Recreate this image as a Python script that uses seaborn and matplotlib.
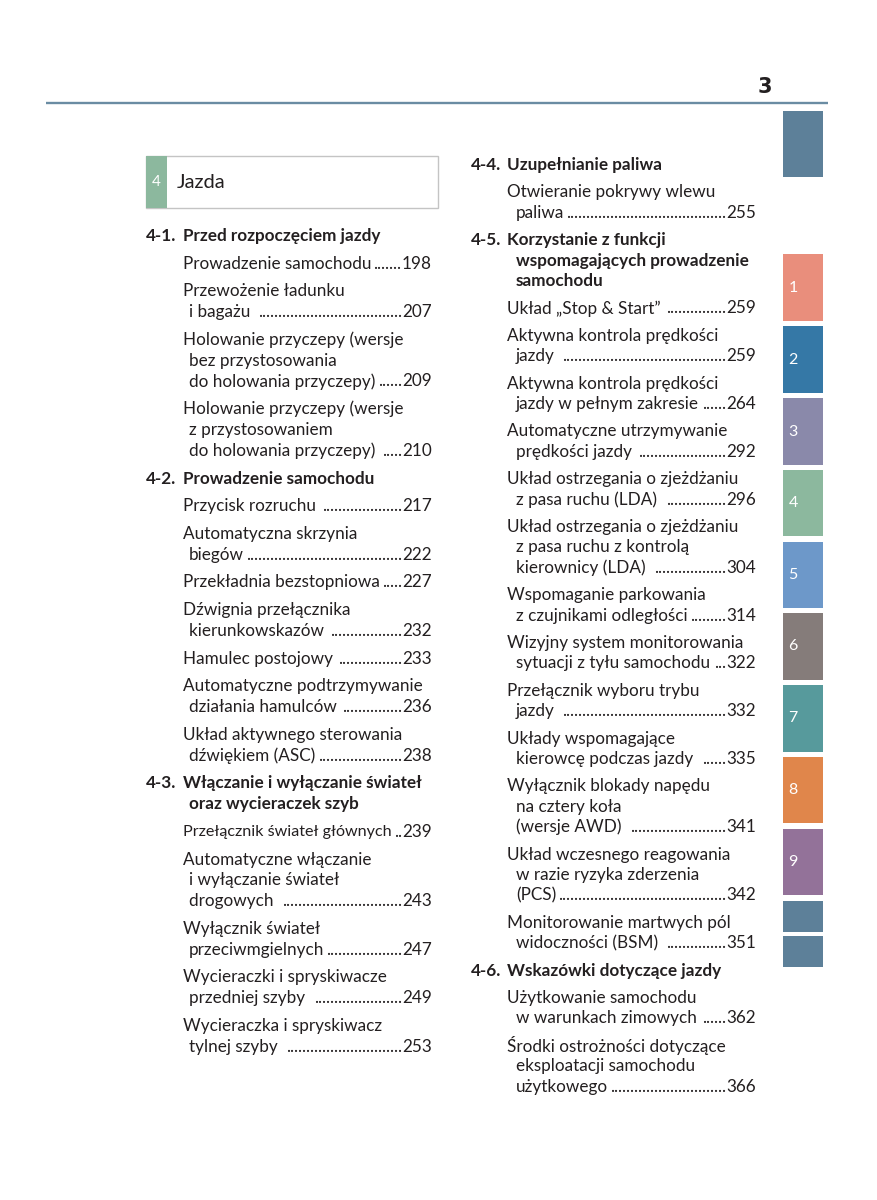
import matplotlib
matplotlib.use("Agg")
import matplotlib.pyplot as plt
import seaborn as sns

# --- dane: spis tresci rozdzialu 4 ---
# (numer podrozdzialu lub None, linie tekstu, strona)
left_items = [
    ("4-1.", ["Przed rozpoczęciem jazdy"], None),
    (None, ["Prowadzenie samochodu"], "198"),
    (None, ["Przewożenie ładunku", "i bagażu "], "207"),
    (None, ["Holowanie przyczepy (wersje", "bez przystosowania", "do holowania przyczepy)"], "209"),
    (None, ["Holowanie przyczepy (wersje", "z przystosowaniem", "do holowania przyczepy) "], "210"),
    ("4-2.", ["Prowadzenie samochodu"], None),
    (None, ["Przycisk rozruchu "], "217"),
    (None, ["Automatyczna skrzynia", "biegów"], "222"),
    (None, ["Przekładnia bezstopniowa"], "227"),
    (None, ["Dźwignia przełącznika", "kierunkowskazów "], "232"),
    (None, ["Hamulec postojowy "], "233"),
    (None, ["Automatyczne podtrzymywanie", "działania hamulców "], "236"),
    (None, ["Układ aktywnego sterowania", "dźwiękiem (ASC)"], "238"),
    ("4-3.", ["Włączanie i wyłączanie świateł", "oraz wycieraczek szyb"], None),
    (None, ["Przełącznik świateł głównych"], "239"),
    (None, ["Automatyczne włączanie", "i wyłączanie świateł", "drogowych "], "243"),
    (None, ["Wyłącznik świateł", "przeciwmgielnych"], "247"),
    (None, ["Wycieraczki i spryskiwacze", "przedniej szyby "], "249"),
    (None, ["Wycieraczka i spryskiwacz", "tylnej szyby "], "253"),
]

right_items = [
    ("4-4.", ["Uzupełnianie paliwa"], None),
    (None, ["Otwieranie pokrywy wlewu", "paliwa"], "255"),
    ("4-5.", ["Korzystanie z funkcji", "wspomagających prowadzenie", "samochodu"], None),
    (None, ["Układ „Stop & Start” "], "259"),
    (None, ["Aktywna kontrola prędkości", "jazdy "], "259"),
    (None, ["Aktywna kontrola prędkości", "jazdy w pełnym zakresie"], "264"),
    (None, ["Automatyczne utrzymywanie", "prędkości jazdy "], "292"),
    (None, ["Układ ostrzegania o zjeżdżaniu", "z pasa ruchu (LDA) "], "296"),
    (None, ["Układ ostrzegania o zjeżdżaniu", "z pasa ruchu z kontrolą", "kierownicy (LDA) "], "304"),
    (None, ["Wspomaganie parkowania", "z czujnikami odległości"], "314"),
    (None, ["Wizyjny system monitorowania", "sytuacji z tyłu samochodu"], "322"),
    (None, ["Przełącznik wyboru trybu", "jazdy "], "332"),
    (None, ["Układy wspomagające", "kierowcę podczas jazdy "], "335"),
    (None, ["Wyłącznik blokady napędu", "na cztery koła", "(wersje AWD) "], "341"),
    (None, ["Układ wczesnego reagowania", "w razie ryzyka zderzenia", "(PCS)"], "342"),
    (None, ["Monitorowanie martwych pól", "widoczności (BSM) "], "351"),
    ("4-6.", ["Wskazówki dotyczące jazdy"], None),
    (None, ["Użytkowanie samochodu", "w warunkach zimowych "], "362"),
    (None, ["Środki ostrożności dotyczące", "eksploatacji samochodu", "użytkowego"], "366"),
]

tab_labels = ["", "1", "2", "3", "4", "5", "6", "7", "8", "9", "", ""]
tab_colors = ["#5d8099", "#e98e7c", "#3578a6", "#8a89aa", "#8cb89e", "#6d98c9",
              "#857c7a", "#579a9c", "#e0864b", "#937299", "#5d8099", "#5d8099"]

chapter_no = "4"
chapter_title = "Jazda"
page_no = "3"

# --- uklad strony (piksele) ---
tab_tops = [111, 254, 326, 398, 470, 542, 613, 685, 757, 829, 901, 936]
tab_heights = [66, 67, 67, 67, 66, 66, 67, 67, 66, 66, 31, 31]

TEXT = "#231f20"
FS = 12.3

sns.set_theme(style="white")
plt.rcParams['font.family'] = ['Lato', 'DejaVu Sans']

fig = plt.figure(figsize=(8.77, 12), dpi=100)
ax = fig.add_axes([0, 0, 1, 1])
ax.set_xlim(0, 877)
ax.set_ylim(1200, 0)
ax.axis("off")

# naglowek
ax.plot([46, 828], [103, 103], color="#6a8ca3", linewidth=1.7, solid_capstyle="butt")
ax.text(765, 87, page_no, fontsize=15, fontweight="bold", color=TEXT,
        ha="center", va="center", family=['Liberation Sans Narrow', 'DejaVu Sans'])

# zakladki boczne
ax.bar([803] * len(tab_tops), tab_heights, width=40, bottom=tab_tops,
       color=tab_colors, linewidth=0)
for top, h, lab in zip(tab_tops, tab_heights, tab_labels):
    if lab:
        ax.text(793, top + h / 2, lab, color="white", fontsize=11.5,
                ha="center", va="center")

# ramka rozdzialu
ax.add_patch(plt.Rectangle((146, 156), 292, 52, facecolor="white",
                           edgecolor="#c4c4c4", linewidth=1))
ax.add_patch(plt.Rectangle((146, 156), 21, 52, facecolor="#8cb89e", linewidth=0))
ax.text(156.5, 182, chapter_no, color="white", fontsize=11, ha="center", va="center")
ax.text(177, 182, chapter_title, color=TEXT, fontsize=14.5, ha="left", va="center")

renderer = fig.canvas.get_renderer()
probe = ax.text(0, 0, "." * 40, fontsize=FS)
dot_w = probe.get_window_extent(renderer).width / 40
probe.remove()


def draw_column(items, x_num, x_text, cont_indent, x_page, y0, line_step, gap):
    y = y0
    for k, (num, lines, page) in enumerate(items):
        if k > 0:
            y += gap
        weight = "bold" if num else "normal"
        if num:
            ax.text(x_num, y, num, fontsize=FS, fontweight="bold", color=TEXT,
                    ha="left", va="center")
        for i, line in enumerate(lines):
            if i > 0:
                y += line_step
            x = x_text if i == 0 else x_text + cont_indent
            t = ax.text(x, y, line, fontsize=FS, fontweight=weight, color=TEXT,
                        ha="left", va="center")
            if page and i == len(lines) - 1:
                p = ax.text(x_page, y, page, fontsize=FS, color=TEXT,
                            ha="right", va="center")
                x_pg = p.get_window_extent(renderer).x0
                # zmniejsz tekst, jesli nie miesci sie przed numerem strony
                fs = FS
                while t.get_window_extent(renderer).x1 > x_pg - 2.2 * dot_w and fs > 10:
                    fs -= 0.1
                    t.set_fontsize(fs)
                x_end = t.get_window_extent(renderer).x1
                n = int((x_pg - x_end - 1) / dot_w)
                if n > 0:
                    ax.text(x_pg - 0.5, y, "." * n, fontsize=FS, color=TEXT,
                            ha="right", va="center")


draw_column(left_items, 146, 183, 6, 432, 236, 20.8, 27.7)
draw_column(right_items, 471, 507, 9, 756, 165, 20.4, 27.4)

fig.savefig("out.png", dpi=100, facecolor="white")
